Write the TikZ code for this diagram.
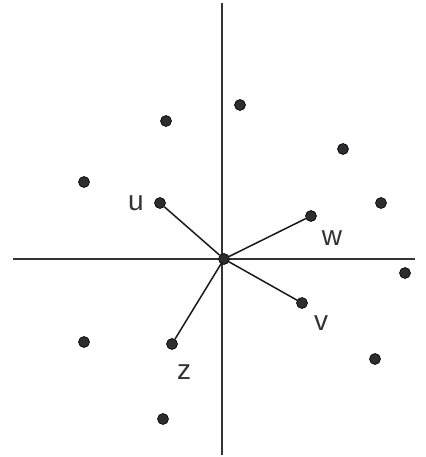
\documentclass[tikz,border=0pt]{standalone}
\usepackage{fontspec}
\setmainfont{Liberation Sans}
\usetikzlibrary{positioning}
\definecolor{cDot}{RGB}{45,45,48}
\tikzset{
	pt/.style   ={circle, fill=cDot, draw=black, line width=0.6pt, minimum size=11pt, inner sep=0pt},
	axis/.style ={draw=black!80, line width=1.1pt},
	spoke/.style={draw=black!90, line width=1.5pt},
	lbl/.style  ={inner sep=0pt, text=black!80, font=\fontsize{28}{30}\selectfont},
}
\begin{document}
\begin{tikzpicture}[x=1pt, y=-1pt]
	\useasboundingbox (0,0) rectangle (425,457);
	% axes
	\coordinate (ytop) at (222,3);
	\coordinate (ybot) at (222,455);
	\coordinate (xlft) at (13,259);
	\coordinate (xrgt) at (415,259);
	\draw[axis] (ytop) -- (ybot);
	\draw[axis] (xlft) -- (xrgt);
	% points
	\node[pt] (o) at (224,259) {};
	\node[pt] (u) at (160,203) {};
	\node[pt] (w) at (311,216) {};
	\node[pt] (v) at (302,303) {};
	\node[pt] (z) at (172,344) {};
	\node[pt] (p1) at (240,105) {};
	\node[pt] (p2) at (166,121) {};
	\node[pt] (p3) at (343,149) {};
	\node[pt] (p4) at (84,182) {};
	\node[pt] (p5) at (381,203) {};
	\node[pt] (p6) at (405,273) {};
	\node[pt] (p7) at (84,342) {};
	\node[pt] (p8) at (375,359) {};
	\node[pt] (p9) at (163,419) {};
	% spokes
	\draw[spoke] (o) -- (u);
	\draw[spoke] (o) -- (w);
	\draw[spoke] (o) -- (v);
	\draw[spoke] (o) -- (z);
	% labels
	\node[lbl] (ul) at (136,203) {u};
	\node[lbl] (wl) at (332,238) {w};
	\node[lbl] (vl) at (321,323) {v};
	\node[lbl] (zl) at (184,372) {z};
\end{tikzpicture}
\end{document}
